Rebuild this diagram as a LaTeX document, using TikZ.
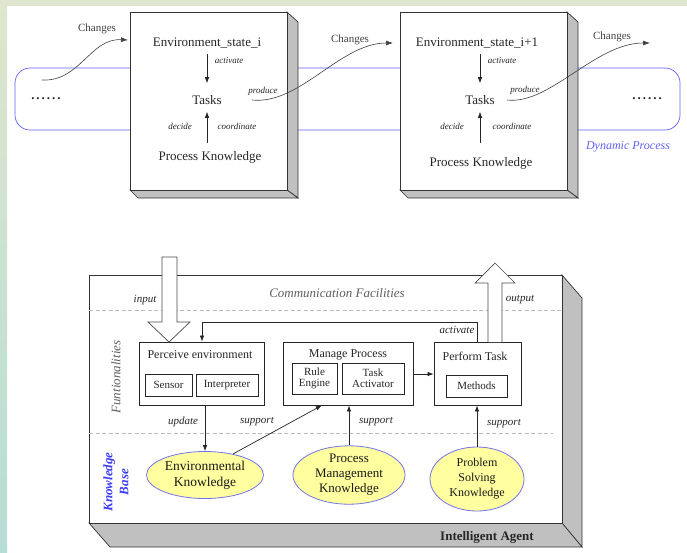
\documentclass[tikz,border=0pt]{standalone}
\usepackage{fontspec}
\setmainfont{Liberation Serif}
\usetikzlibrary{arrows.meta,shapes.geometric,calc}
\definecolor{bgtop}{RGB}{222,230,205}
\definecolor{bgbot}{RGB}{182,221,212}
\definecolor{sidegray}{RGB}{192,192,192}
\definecolor{procblue}{RGB}{95,95,245}
\definecolor{ellfill}{RGB}{255,255,160}
\definecolor{ellblue}{RGB}{115,115,235}
\definecolor{txtgray}{RGB}{95,95,95}
\definecolor{dashgray}{RGB}{185,185,185}
\definecolor{kbblue}{RGB}{60,60,250}
\newcommand{\sixdots}{.\kern2pt.\kern2pt.\kern2pt.\kern2pt.\kern2pt.}
\begin{document}
\begin{tikzpicture}[x=1pt,y=-1pt,
  arr/.style={-{Latex[length=6pt,width=4.5pt]}, line width=0.7pt, draw=black!85},
  carr/.style={-{Latex[length=7pt,width=5pt]}, line width=0.6pt, draw=black!75},
  big/.style={font=\fontsize{13}{15}\selectfont, inner sep=0pt, text=black!85},
  lbl/.style={font=\fontsize{9}{10}\selectfont\itshape, inner sep=0pt, text=black!85},
  chg/.style={font=\fontsize{11}{13}\selectfont, inner sep=0pt, text=black!75},
  mlbl/.style={font=\fontsize{11}{13}\selectfont\itshape, inner sep=0pt, text=black!85},
  front/.style={draw=black!80, fill=white, line width=0.7pt, inner sep=0pt},
  side/.style={draw=black!80, fill=sidegray, line width=0.7pt},
  ibox/.style={draw=black!85, fill=white, line width=0.8pt, inner sep=0pt},
  ititle/.style={font=\fontsize{12}{14}\selectfont, inner sep=0pt, text=black!85},
  itext/.style={font=\fontsize{11}{13}\selectfont, align=center, text=black!85},
  ell/.style={ellipse, draw=ellblue, fill=ellfill, line width=0.8pt, align=center, inner sep=0pt, text=black!90},
  hollow/.style={draw=black!70, fill=white, line width=0.7pt}
]
\useasboundingbox (0,0) rectangle (687,552);
% background strips
\fill[bgtop] (0,0) rectangle (687,6);
\shade[top color=bgtop, bottom color=bgbot] (0,6) rectangle (7,552);

% dynamic process band
\draw[procblue, line width=0.7pt, rounded corners=15] (15,68) rectangle (680,130);
\node[font=\fontsize{12}{14}\selectfont\itshape, text=procblue, inner sep=0pt] (dyn) at (628,147) {Dynamic Process};
\node[big, font=\fontsize{13}{15}\selectfont\bfseries] (dotsL) at (46,99) {\sixdots};
\node[big, font=\fontsize{13}{15}\selectfont\bfseries] (dotsR) at (647,99) {\sixdots};

% state box 1
\draw[side] (287,12) -- (298,22) -- (298,198) -- (287,190) -- cycle;
\draw[side] (130,190) -- (138,198) -- (298,198) -- (287,190) -- cycle;
\node[front, minimum width=157, minimum height=178] (st1) at (208.5,101) {};
\node[big] (env1) at (207,43) {Environment\_state\_i};
\node[big, inner sep=7pt] (tasks1) at (207,100) {Tasks};
\node[big] (pk1) at (210,157) {Process Knowledge};
\draw[arr] ([yshift=-6]env1.south -| tasks1.north) -- ([yshift=5]tasks1.north);
\draw[arr] ([yshift=8]pk1.north -| tasks1.south) -- (tasks1.south);
\node[lbl] (act1) at (229,61) {activate};
\node[lbl] (dec1) at (180,126) {decide};
\node[lbl] (coo1) at (237,126) {coordinate};
\node[lbl] (pro1) at (263,91) {produce};

% state box 2
\draw[side] (567,12) -- (578,22) -- (578,198) -- (567,190) -- cycle;
\draw[side] (400,190) -- (408,198) -- (578,198) -- (567,190) -- cycle;
\node[front, minimum width=167, minimum height=178] (st2) at (483.5,101) {};
\node[big] (env2) at (477,43) {Environment\_state\_i+1};
\node[big, inner sep=7pt] (tasks2) at (480,100) {Tasks};
\node[big] (pk2) at (481,163) {Process Knowledge};
\draw[arr] ([yshift=-6]env2.south -| tasks2.north) -- ([yshift=5]tasks2.north);
\draw[arr] ([yshift=14]pk2.north -| tasks2.south) -- (tasks2.south);
\node[lbl] (act2) at (502,61) {activate};
\node[lbl] (dec2) at (452,126) {decide};
\node[lbl] (coo2) at (512,126) {coordinate};
\node[lbl] (pro2) at (525,90) {produce};

% changes curves
\coordinate (c0s) at (42,80);
\coordinate (c0e) at (128,40);
\coordinate (c1s) at (252,100);
\coordinate (c1e) at (393,43);
\coordinate (c2s) at (507,100);
\coordinate (c2e) at (650,43);
\draw[carr] (c0s) .. controls (80,82) and (90,38) .. (c0e);
\draw[carr] (c1s) .. controls (300,105) and (340,43) .. (c1e);
\draw[carr] (c2s) .. controls (550,105) and (595,43) .. (c2e);
\node[chg] (ch0) at (97,29) {Changes};
\node[chg] (ch1) at (350,40) {Changes};
\node[chg] (ch2) at (612,37) {Changes};

% intelligent agent box
\draw[side] (562,275) -- (582,298) -- (582,547) -- (562,523) -- cycle;
\draw[side] (89,523) -- (110,547) -- (582,547) -- (562,523) -- cycle;
\node[front, minimum width=473, minimum height=248] (agent) at (325.5,399) {};
\node[font=\fontsize{13}{15}\selectfont\bfseries, inner sep=0pt, text=black!85] (ia) at (487,537) {Intelligent Agent};
\draw[dashgray, line width=0.8pt, dash pattern=on 4pt off 2.5pt] (89,310) -- (562,310);
\draw[dashgray, line width=0.8pt, dash pattern=on 4pt off 2.5pt] (89,433) -- (553,433);
\node[font=\fontsize{13}{15}\selectfont\itshape, text=txtgray, inner sep=0pt] (comm) at (337,293) {Communication Facilities};
\node[font=\fontsize{13}{15}\selectfont\itshape, text=txtgray, inner sep=0pt, rotate=90] (func) at (116,377) {Funtionalities};
\node[font=\fontsize{13}{16}\selectfont\bfseries\itshape, text=kbblue, inner sep=0pt, rotate=90, align=center] (kb) at (116,482) {Knowledge\\Base};
\node[mlbl] (inp) at (145,300) {input};
\node[mlbl] (outp) at (520,300) {output};

% functional boxes
\node[ibox, minimum width=125, minimum height=63] (perceive) at (201.5,373.5) {};
\node[ititle] (pert) at (200,355) {Perceive environment};
\node[ibox, itext, minimum width=47, minimum height=22] (sensor) at (168.5,385) {Sensor};
\node[ibox, itext, minimum width=62, minimum height=22] (interp) at (227,385) {Interpreter};

\node[ibox, minimum width=130, minimum height=63] (manage) at (348,373.5) {};
\node[ititle] (mant) at (348,355) {Manage Process};
\node[ibox, itext, minimum width=45, minimum height=31] (rule) at (314.5,378.5) {Rule\\[-2pt]Engine};
\node[ibox, itext, minimum width=62, minimum height=31] (taskact) at (373,378.5) {Task\\[-2pt]Activator};

\node[ibox, minimum width=87, minimum height=63] (perform) at (477.5,373.5) {};
\node[ititle] (perft) at (475,356) {Perform Task};
\node[ibox, itext, minimum width=61, minimum height=22] (methods) at (476.5,386) {Methods};

% hollow input/output arrows
\draw[hollow] (162,257) -- (162,322) -- (148,322) -- (169,342) -- (190,322) -- (177,322) -- (177,257) -- cycle;
\draw[hollow] (488,342) -- (488,283) -- (475,283) -- (495,263) -- (515,283) -- (502,283) -- (502,342);

% manage -> perform
\coordinate (m2p) at (0,374);
\draw[arr] (manage.east |- m2p) -- (perform.west |- m2p);

% activate feedback
\coordinate (fbR) at (477.5,322);
\coordinate (fbL) at (202,322);
\draw[arr] (perform.north) -- (fbR) -- (fbL) -- (perceive.north -| fbL);
\node[mlbl] (actb) at (457,330) {activate};

% knowledge ellipses
\node[ell, minimum width=117, minimum height=47, font=\fontsize{13.5}{16}\selectfont] (envk) at (205,475) {Environmental\\Knowledge};
\node[ell, minimum width=112, minimum height=56, font=\fontsize{13}{15}\selectfont] (pmk) at (349,475) {Process\\Management\\Knowledge};
\node[ell, minimum width=94, minimum height=64, font=\fontsize{12}{15}\selectfont] (psk) at (477,479) {Problem\\Solving\\Knowledge};

\coordinate (sup1) at ($(manage.south west)!0.3!(manage.south east)$);
\draw[arr] (perceive.south -| envk.north) -- (envk.north);
\draw[arr] (envk.37) -- (sup1);
\draw[arr] (pmk.north) -- (manage.south -| pmk.north);
\draw[arr] (psk.north) -- (perform.south -| psk.north);
\node[mlbl] (upd) at (183,422) {update};
\node[mlbl] (sp1) at (257,422) {support};
\node[mlbl] (sp2) at (376,422) {support};
\node[mlbl] (sp3) at (504,424) {support};
\end{tikzpicture}
\end{document}
